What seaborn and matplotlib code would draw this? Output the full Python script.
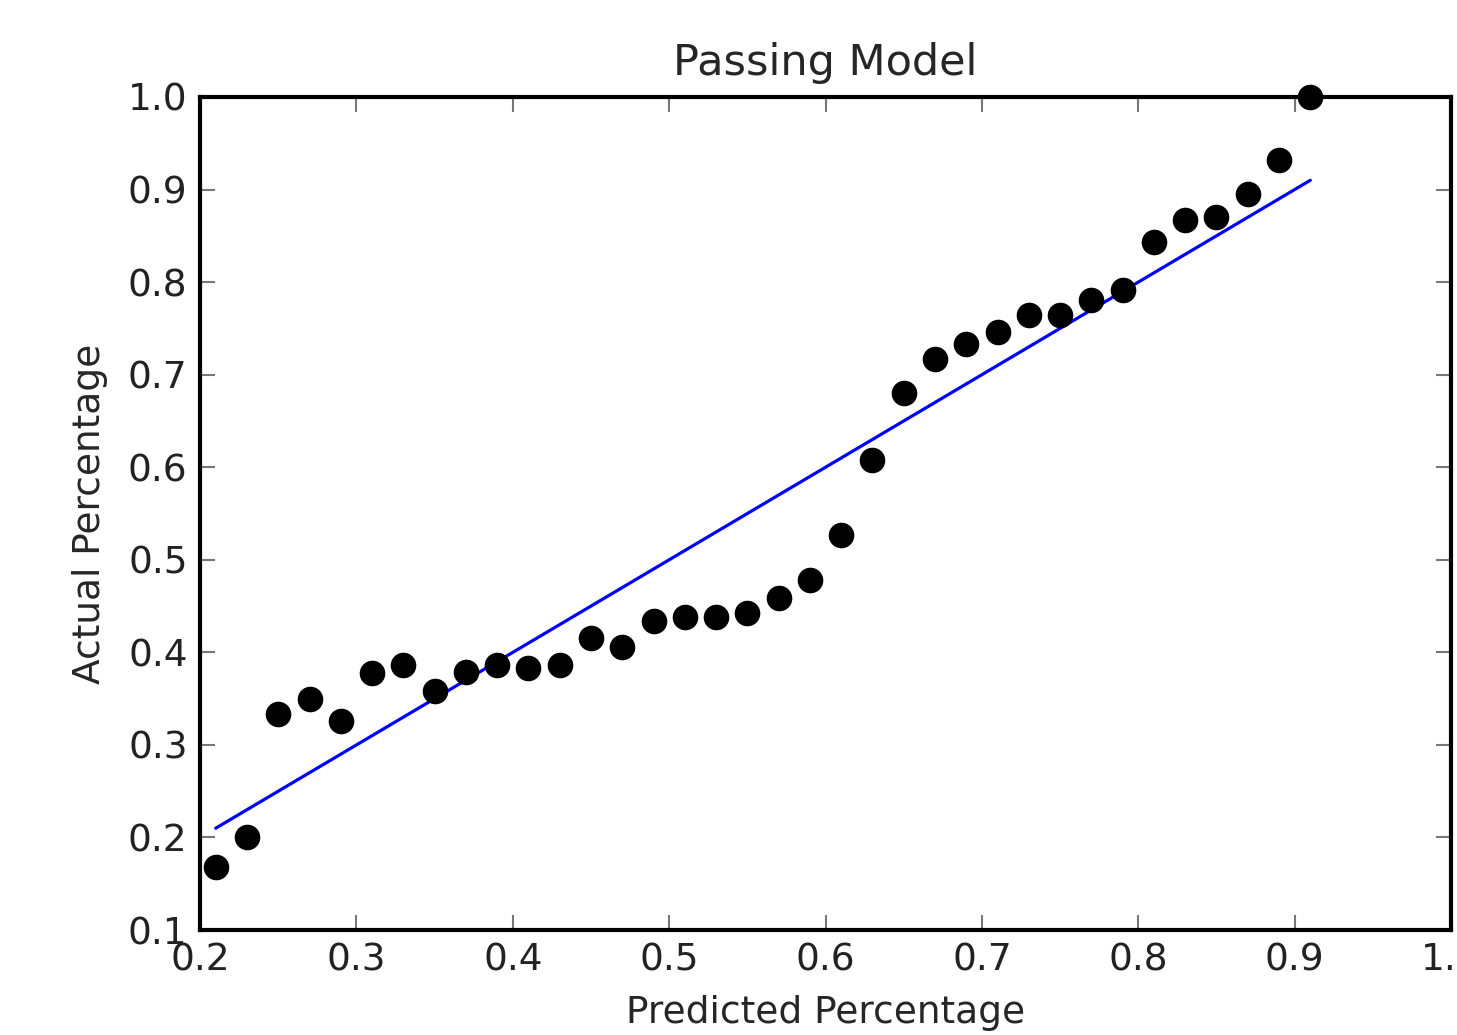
import numpy as np
import pandas as pd
import matplotlib
matplotlib.use('Agg')
import matplotlib.pyplot as plt
import seaborn as sns

# bin centres of predicted probability and the observed pass rate in each bin
predicted = [0.21, 0.23, 0.25, 0.27, 0.29, 0.31, 0.33, 0.35, 0.37, 0.39,
             0.41, 0.43, 0.45, 0.47, 0.49, 0.51, 0.53, 0.55, 0.57, 0.59,
             0.61, 0.63, 0.65, 0.67, 0.69, 0.71, 0.73, 0.75, 0.77, 0.79,
             0.81, 0.83, 0.85, 0.87, 0.89, 0.91]
actual = [0.168, 0.201, 0.333, 0.350, 0.326, 0.378, 0.386, 0.358, 0.379, 0.386,
          0.383, 0.386, 0.415, 0.406, 0.434, 0.438, 0.438, 0.442, 0.459, 0.478,
          0.527, 0.608, 0.680, 0.717, 0.733, 0.746, 0.765, 0.765, 0.781, 0.791,
          0.843, 0.867, 0.870, 0.895, 0.932, 1.000]

x_ticks = [0.2, 0.3, 0.4, 0.5, 0.6, 0.7, 0.8, 0.9, 1.0]
y_ticks = [0.1, 0.2, 0.3, 0.4, 0.5, 0.6, 0.7, 0.8, 0.9, 1.0]

df = pd.DataFrame({'predicted': predicted, 'actual': actual})

sns.set_theme(style='white')
plt.rcParams['font.family'] = ['DejaVu Sans']

fig = plt.figure(figsize=(14.57, 10.35), dpi=100)
ax = fig.add_axes([0.1373, 0.1014, 0.8586, 0.8049])

sns.scatterplot(data=df, x='predicted', y='actual', ax=ax, color='black',
                s=340, linewidth=0, zorder=3, clip_on=False)
# perfect calibration reference line
sns.lineplot(x=df['predicted'], y=df['predicted'], ax=ax, color='#0000ff',
             linewidth=2.3, zorder=2)

ax.set_xlim(0.2, 1.0)
ax.set_ylim(0.1, 1.0)
ax.set_xticks(x_ticks)
ax.set_yticks(y_ticks)
ax.set_xticklabels([f'{t:.1f}' for t in x_ticks])
ax.set_yticklabels([f'{t:.1f}' for t in y_ticks])

ax.tick_params(direction='in', length=11, width=1.5, color='#777777',
               labelsize=27, labelcolor='#222222', pad=9,
               top=True, right=True, bottom=True, left=True)
for sp in ax.spines.values():
    sp.set_visible(True)
    sp.set_color('black')
    sp.set_linewidth(3)

ax.set_title('Passing Model', fontsize=31, pad=16)
ax.set_xlabel('Predicted Percentage', fontsize=27, labelpad=12)
ax.set_ylabel('Actual Percentage', fontsize=27, labelpad=14)

fig.savefig('out.png', dpi=100)
